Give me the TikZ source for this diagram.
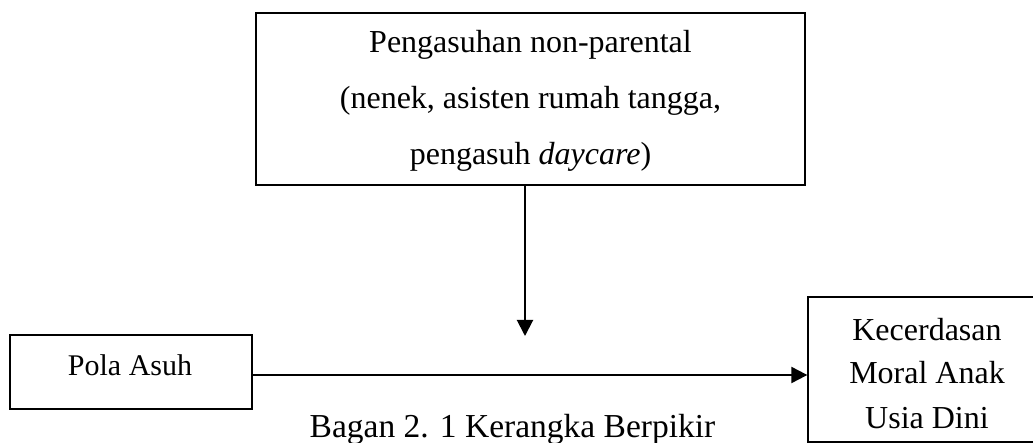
\documentclass[tikz,border=0pt]{standalone}
\usepackage{fontspec}
\setmainfont{Liberation Serif}
\usetikzlibrary{arrows.meta}
\begin{document}
\begin{tikzpicture}[x=1pt,y=-1pt,
  boxstyle/.style={draw=black, line width=1.3pt, rectangle, inner sep=0pt},
  txt/.style={align=center, inner sep=0pt, anchor=base},
  conn/.style={line width=2pt, -{Triangle[width=16pt,length=16pt]}}]
\useasboundingbox (0,0) rectangle (1033,443);
\clip (0,0) rectangle (1033,443);
% top box
\node[boxstyle, minimum width=549pt, minimum height=172pt] (care) at (530.5,99) {};
\node[txt, font=\fontsize{32}{56}\selectfont] (caretxt) at (530.5,165)
  {Pengasuhan non-parental\\(nenek, asisten rumah tangga,\\pengasuh \textit{daycare})};
% left box
\node[boxstyle, minimum width=242pt, minimum height=74pt] (pola) at (131,372) {};
\node[txt, font=\fontsize{30}{36}\selectfont] (polatxt) at (130,375) {Pola Asuh};
% right box (cut off at the picture edge)
\node[boxstyle, minimum width=238pt, minimum height=145pt] (moral) at (927,369.5) {};
\node[txt, font=\fontsize{32}{44}\selectfont] (moraltxt) at (927,428)
  {Kecerdasan\\Moral Anak\\Usia Dini};
% connectors
\coordinate (join) at (525,336);
\coordinate (mainy) at (0,375);
\draw[conn] ([xshift=-5.5pt]care.south) -- (join);
\draw[conn] (pola.east |- mainy) -- (moral.west |- mainy);
% caption
\node[txt, font=\fontsize{33.5}{40}\selectfont] (cap) at (512.5,437) {Bagan 2. 1 Kerangka Berpikir};
\end{tikzpicture}
\end{document}
